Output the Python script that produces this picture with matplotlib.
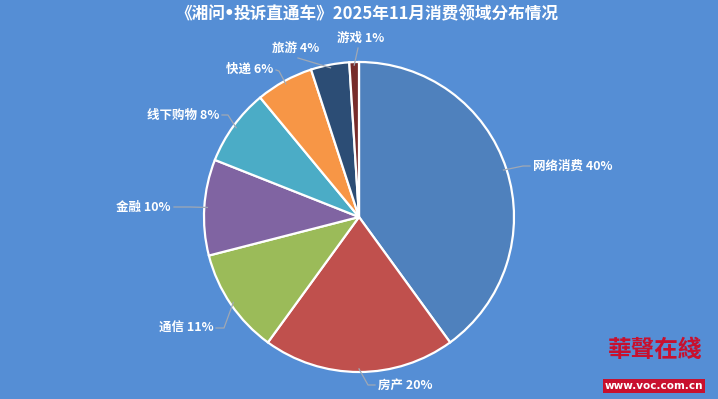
import numpy as np
import matplotlib.pyplot as plt

plt.rcParams['font.family'] = ['Noto Sans CJK SC', 'DejaVu Sans']

# data
categories = ['网络消费', '房产', '通信', '金融', '线下购物', '快递', '旅游', '游戏']
shares = [40, 20, 11, 10, 8, 6, 4, 1]
colors = ['#4f81bd', '#c0504d', '#9bbb59', '#8064a2', '#4bacc6', '#f79646', '#2c4d75', '#772c2a']
title_left = '《湘问'
title_right = '投诉直通车》2025年11月消费领域分布情况'

# layout (pixels, measured from the top-left corner)
W, H = 718, 399
cx, cy, R = 359, 217, 155
bg = '#558ed5'
line_c = '#a0a8b4'
# leader elbow, leader end, text anchor and alignment for each label
elbows = [(523, 166), (368, 385), (224, 328), (190, 207), (228, 115), (279, 71), (298, 58), (358, 48)]
ends = [(530, 166), (375, 385), (216, 328), (174, 207), (222, 115), (276, 70), (298, 58), (358, 48)]
text_pos = [(533, 166), (378, 385), (214, 328), (170, 207), (219, 115), (273, 69), (319, 49), (361, 38)]
text_ha = ['left', 'left', 'right', 'right', 'right', 'right', 'right', 'center']

fig = plt.figure(figsize=(W / 100, H / 100), dpi=100, facecolor=bg)
ax = fig.add_axes([0, 0, 1, 1])
ax.set_facecolor(bg)

wedges, _ = ax.pie(shares, colors=colors, startangle=90, counterclock=False,
                   center=(cx, H - cy), radius=R,
                   wedgeprops=dict(edgecolor='white', linewidth=1.6))
ax.set_xlim(0, W)
ax.set_ylim(0, H)
ax.set_aspect('equal')
ax.axis('off')

for w, name, pct, e, f, t, ha in zip(wedges, categories, shares, elbows, ends, text_pos, text_ha):
    mid = np.deg2rad((w.theta1 + w.theta2) / 2)
    x0, y0 = cx + 0.98 * R * np.cos(mid), H - cy + 0.98 * R * np.sin(mid)
    ax.plot([x0, e[0], f[0]], [y0, H - e[1], H - f[1]], color=line_c, lw=0.9)
    ax.text(t[0], H - t[1], f'{name} {pct}%', ha=ha, va='center', color='white',
            fontsize=9, fontweight='bold')

# title in three pieces so the bullet stays narrow
tkw = dict(va='center', color='white', fontsize=12, fontweight='bold')
ax.text(364, H - 14, '•', ha='center', family='DejaVu Sans', **tkw)
tl = ax.text(0, H - 14, title_left, ha='right', **tkw)
tr = ax.text(0, H - 14, title_right, ha='left', **tkw)
fig.canvas.draw()
r = fig.canvas.get_renderer()
wl = tl.get_window_extent(r).width
wr = tr.get_window_extent(r).width
x_start = 367 - (wl + 8 + wr) / 2
tl.set_x(x_start + wl)
tr.set_x(x_start + wl + 8)
[t for t in ax.texts if t.get_text() == '•'][0].set_x(x_start + wl + 4)

# watermark
ax.text(655, H - 350, '華聲在綫', ha='center', va='center', color='#c8102e',
        fontsize=17, fontstyle='italic', fontweight='bold', family='Noto Sans CJK TC')
ax.text(654, H - 386, 'www.voc.com.cn', ha='center', va='center', color='white',
        fontsize=7.5, fontweight='bold', family='DejaVu Sans',
        bbox=dict(boxstyle='square,pad=0.2', fc='#c8102e', ec='none'))

fig.savefig('out.png', dpi=100, facecolor=bg)
